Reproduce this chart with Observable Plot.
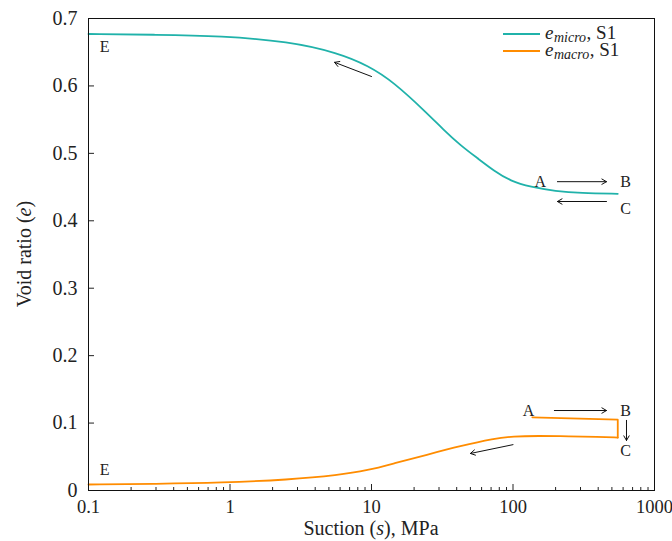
<!DOCTYPE html>
<html><head><meta charset="utf-8">
<script src="https://cdn.jsdelivr.net/npm/d3@7"></script>
<script src="https://cdn.jsdelivr.net/npm/@observablehq/plot@0.6"></script>
<style>body{margin:0;background:#fff}</style>
</head><body><div id="chart"></div>
<script>
// e_micro, S1
const microS = [0.1, 0.3, 0.87, 2.6, 5.8, 9.5, 14.3, 24.6, 32.3, 42.5, 56, 73.5, 96, 133, 200, 300, 550];
const microE = [0.677, 0.676, 0.674, 0.666, 0.649, 0.630, 0.606, 0.560, 0.535, 0.512, 0.493, 0.474, 0.459, 0.450, 0.444, 0.441, 0.440];
// e_macro, S1 : A -> B -> C (straight), then C -> E (smooth)
const macroPathS = [137, 550, 550];
const macroPathE = [0.1085, 0.105, 0.0785];
const macroCurveS = [550, 400, 250, 150, 100, 73.5, 42.5, 24.6, 14.3, 9.5, 5.8, 2.6, 0.87, 0.3, 0.1];
const macroCurveE = [0.0785, 0.0795, 0.0805, 0.081, 0.0805, 0.077, 0.066, 0.053, 0.040, 0.030, 0.0225, 0.016, 0.0115, 0.0098, 0.0089];
// arrows
const arrowX1 = [10, 206, 458, 196, 634, 100];
const arrowY1 = [0.614, 0.458, 0.4286, 0.1186, 0.104, 0.068];
const arrowX2 = [5.48, 458, 206, 458, 634, 50];
const arrowY2 = [0.635, 0.458, 0.4286, 0.1186, 0.0742, 0.0549];
// point labels
const labelText = ["A", "B", "C", "E", "A", "B", "C", "E"];
const labelS = [156, 624, 624, 0.13, 129, 624, 624, 0.13];
const labelE = [0.458, 0.458, 0.418, 0.658, 0.1186, 0.1186, 0.059, 0.030];
// ticks
const xMajor = [0.1, 1, 10, 100, 1000];
const xMinor = [];
for (const d of [0.1, 1, 10, 100]) for (let k = 2; k <= 9; k++) xMinor.push(+(d * k).toPrecision(3));
const yMajor = [0, 0.1, 0.2, 0.3, 0.4, 0.5, 0.6, 0.7];

const teal = "#20b2aa", orange = "#ff8c00";
const FONT = "'Liberation Serif', 'DejaVu Serif', serif";

const micro = microS.map((s, i) => ({s, e: microE[i]}));
const macroPath = macroPathS.map((s, i) => ({s, e: macroPathE[i]}));
const macroCurve = macroCurveS.map((s, i) => ({s, e: macroCurveE[i]}));
const arrows = arrowX1.map((x, i) => ({x1: x, y1: arrowY1[i], x2: arrowX2[i], y2: arrowY2[i]}));
const labels = labelText.map((t, i) => ({t, s: labelS[i], e: labelE[i]}));

const W = 672, H = 541, mL = 88, mR = 18, mT = 18, mB = 51;
const iw = W - mL - mR, ih = H - mT - mB;

const plot = Plot.plot({
  width: W, height: H,
  marginLeft: mL, marginRight: mR, marginTop: mT, marginBottom: mB,
  style: {fontFamily: FONT, fontSize: "20px", color: "#222", background: "#fff"},
  x: {type: "log", domain: [0.1, 1000], label: null},
  y: {domain: [0, 0.7], label: null},
  marks: [
    Plot.ruleX(xMajor, {x: d => d, insetTop: ih - 6, stroke: "#222"}),
    Plot.ruleX(xMinor, {x: d => d, insetTop: ih - 3, stroke: "#222"}),
    Plot.ruleY(yMajor, {y: d => d, insetRight: iw - 6, stroke: "#222"}),
    Plot.axisX(xMajor, {tickSize: 0, tickPadding: 9, tickFormat: d => String(d), fontSize: 18.5}),
    Plot.axisY(yMajor, {tickSize: 0, tickPadding: 11, tickFormat: d => d === 0 ? "0" : d.toFixed(1), fontSize: 20}),
    Plot.line(micro, {x: "s", y: "e", stroke: teal, strokeWidth: 1.8, curve: "basis"}),
    Plot.line(macroPath, {x: "s", y: "e", stroke: orange, strokeWidth: 1.8}),
    Plot.line(macroCurve, {x: "s", y: "e", stroke: orange, strokeWidth: 1.8, curve: "basis"}),
    Plot.arrow(arrows, {x1: "x1", y1: "y1", x2: "x2", y2: "y2", stroke: "#111", strokeWidth: 1, headLength: 8}),
    Plot.text(labels, {x: "s", y: "e", text: "t", fontSize: 16, fill: "#222"}),
    Plot.frame({stroke: "#111", strokeWidth: 1})
  ]
});
document.getElementById("chart").appendChild(plot);

const svg = d3.select(plot);
// axis titles
svg.append("text")
  .attr("x", mL + iw / 2).attr("y", H - 6)
  .attr("text-anchor", "middle").attr("font-family", FONT).attr("font-size", 20).attr("fill", "#222")
  .call(t => { t.append("tspan").text("Suction ("); t.append("tspan").attr("font-style", "italic").text("s"); t.append("tspan").text("), MPa"); });
svg.append("text")
  .attr("transform", `translate(31,${mT + ih / 2}) rotate(-90)`)
  .attr("text-anchor", "middle").attr("font-family", FONT).attr("font-size", 20).attr("fill", "#222")
  .call(t => { t.append("tspan").text("Void ratio ("); t.append("tspan").attr("font-style", "italic").text("e"); t.append("tspan").text(")"); });
// legend: separate text pieces placed by measured widths
const legend = [["micro", teal], ["macro", orange]];
legend.forEach(([sub, col], i) => {
  const y = mT + 16 + i * 17;
  const x0 = W - mR - 151;
  svg.append("line").attr("x1", x0).attr("x2", x0 + 37).attr("y1", y).attr("y2", y)
    .attr("stroke", col).attr("stroke-width", 1.8);
  let x = x0 + 42;
  const piece = (txt, size, italic, dy) => {
    const t = svg.append("text").attr("x", x).attr("y", y + 5 + dy).attr("text-anchor", "start")
      .attr("font-family", FONT).attr("font-size", size).attr("fill", "#222")
      .attr("font-style", italic ? "italic" : "normal").text(txt);
    x += t.node().getComputedTextLength() + 0.5;
  };
  piece("e", 19, true, 0);
  piece(sub, 14, true, 3);
  piece(", S1", 19, false, 0);
});
</script>
</body></html>
